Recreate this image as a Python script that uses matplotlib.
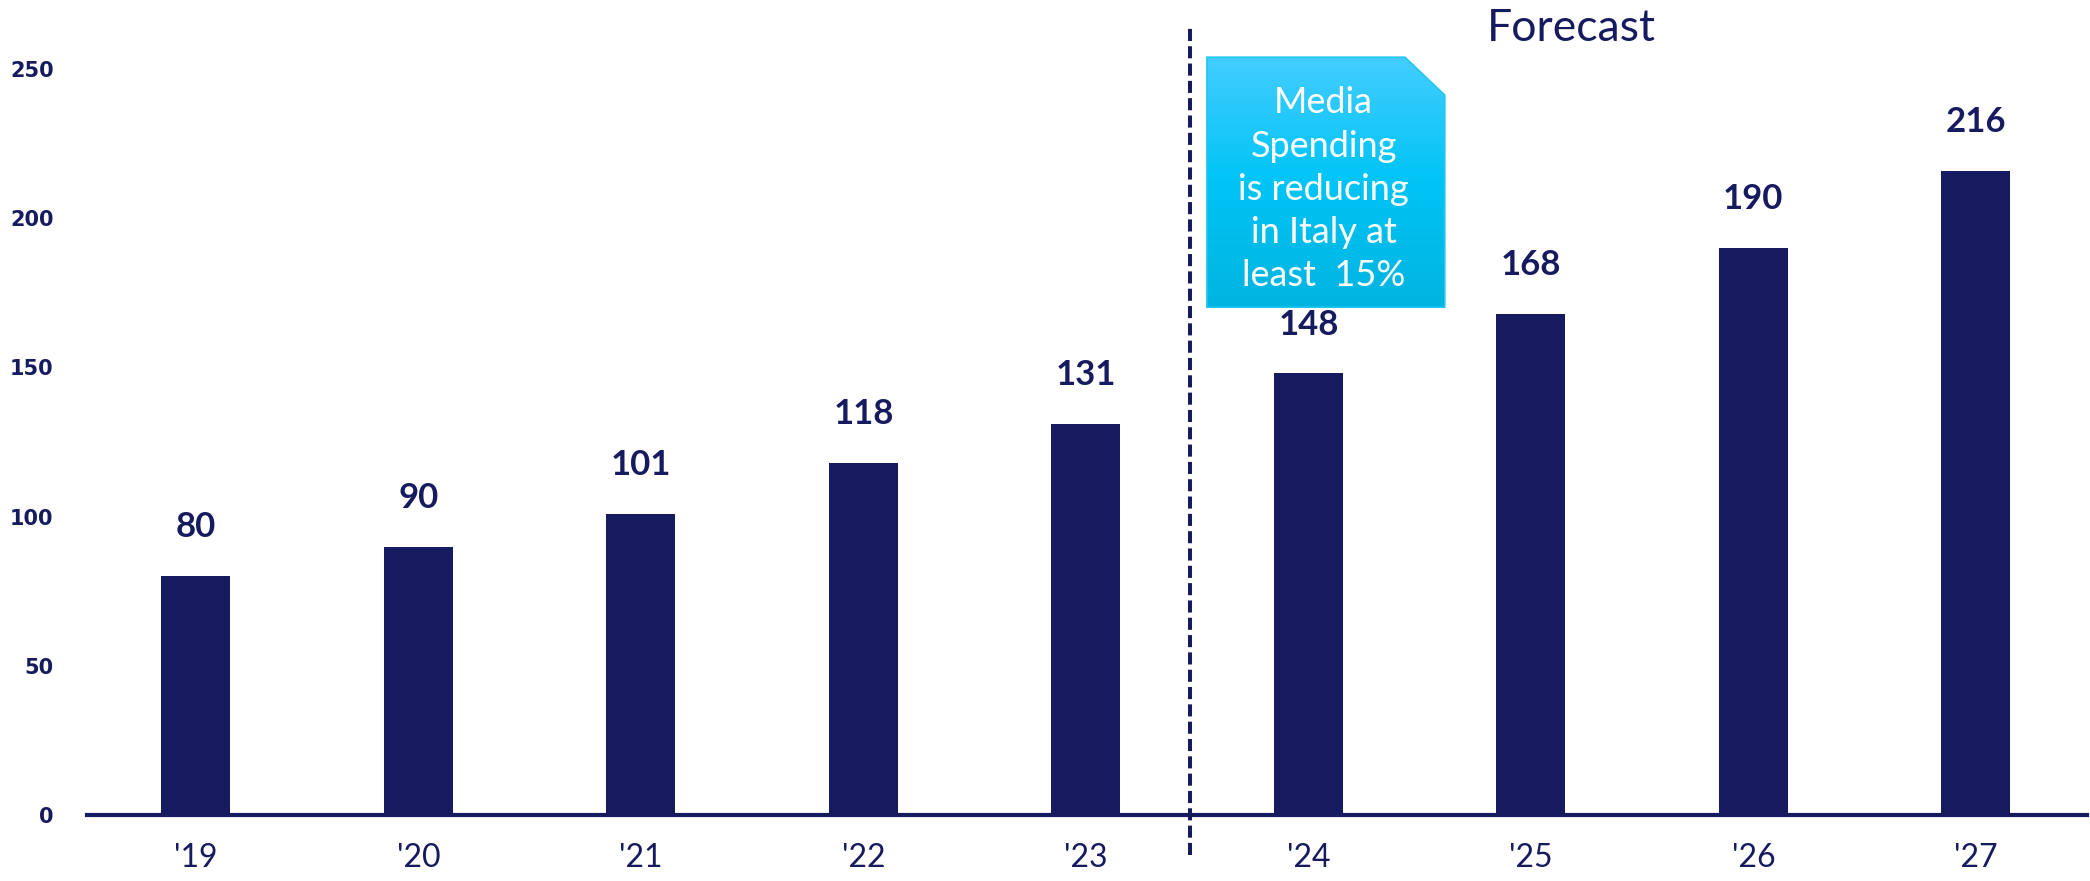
import matplotlib.pyplot as plt
import numpy as np
from matplotlib.patches import Polygon

# dados
anos = ["'19", "'20", "'21", "'22", "'23", "'24", "'25", "'26", "'27"]
valores = [80, 90, 101, 118, 131, 148, 168, 190, 216]
yticks = [0, 50, 100, 150, 200, 250]
nota = "Media\nSpending\nis reducing\nin Italy at\nleast  15%"

navy = '#161A5E'

fig = plt.figure(figsize=(20.9, 8.81), dpi=100)
ax = fig.add_axes([0.0416, 0.0749, 0.957, 0.893])

x = np.arange(len(anos))
ax.bar(x, valores, width=0.31, color=navy, zorder=2)

for xi, v in zip(x, valores):
    ax.annotate(str(v), (xi, v), xytext=(0, 28), textcoords='offset points',
                ha='center', va='baseline', fontsize=25, fontweight='bold',
                family='Lato', color=navy)

ax.set_xlim(-0.49, 8.5)
ax.set_ylim(0, 263.7)
ax.set_xticks(x)
ax.set_xticklabels(anos, family='Lato', fontsize=23, color=navy)
ax.set_yticks(yticks)
ax.set_yticklabels([str(t) for t in yticks], family='DejaVu Sans', fontweight='bold',
                   fontsize=15, color=navy)
ax.tick_params(axis='both', length=0)
ax.tick_params(axis='x', pad=20)
ax.tick_params(axis='y', pad=24)

for s in ['top', 'right', 'left']:
    ax.spines[s].set_visible(False)
ax.spines['bottom'].set_color(navy)
ax.spines['bottom'].set_linewidth(3)
ax.spines['bottom'].set_zorder(3)

# linha que separa o forecast
trans = ax.get_xaxis_transform()
ax.plot([4.47, 4.47], [-0.051, 1.0], transform=trans, color=navy, lw=2.9,
        dashes=(3, 1.3), clip_on=False, zorder=4)
ax.text(6.18, 1.0, 'Forecast', transform=trans, ha='center', va='center',
        fontsize=32, family='Lato', color=navy, clip_on=False)

# caixa com gradiente
x0, x1, xc = 4.544, 5.613, 5.434
y0, y1, yc = 170.2, 254.0, 241.3
pts = [(x0, y0), (x0, y1), (xc, y1), (x1, yc), (x1, y0)]
poly = Polygon(pts, closed=True, facecolor='none', edgecolor='#22C6EE', lw=1.2, zorder=6)
ax.add_patch(poly)
top = np.array([0x45, 0xCD, 0xFF]) / 255
mid = np.array([0x00, 0xC4, 0xF6]) / 255
bot = np.array([0x00, 0xB4, 0xE0]) / 255
t = np.linspace(0, 1, 200)[:, None]
grad = np.where(t < 0.5, top + (mid - top) * (t / 0.5), mid + (bot - mid) * ((t - 0.5) / 0.5))
grad = grad[:, None, :]
im = ax.imshow(grad, extent=[x0, x1, y0, y1], origin='upper', aspect='auto', zorder=5)
im.set_clip_path(poly)
ax.text((x0 + x1) / 2 - 0.01, (y0 + y1) / 2 - 2.4, nota, ha='center', va='center',
        fontsize=26, family='Lato', color='white', linespacing=1.38, zorder=7)

ax.set_xlim(-0.49, 8.5)
ax.set_ylim(0, 263.7)

fig.savefig('out.png', dpi=100)
